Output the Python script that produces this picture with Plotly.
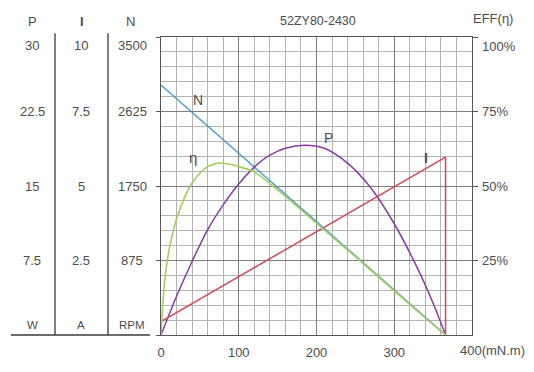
import plotly.graph_objects as go

# ---------------- data ----------------
title_text = "52ZY80-2430"

torque_n = [0, 366]
speed_rpm = [2935, 0]

torque_i = [0, 366, 366]
current_a = [0.45, 5.97, 0]

torque_p = [0, 20, 40, 60, 80, 100, 120, 140, 160, 185, 210, 240, 270, 300, 330, 350, 366]
power_w = [0, 3.9, 7.4, 10.6, 13.1, 15.2, 16.9, 18.1, 18.8, 19.1, 18.8, 17.3, 14.8, 11.2, 6.7, 3.2, 0]

torque_eff = [0, 2, 5, 10, 15, 20, 30, 40, 50, 60, 74, 90, 100, 120, 140, 160, 200, 250, 300, 340, 366]
eff_pct = [0, 9, 19, 28, 34, 39, 46, 51, 54.3, 56.5, 57.7, 57.2, 56.5, 54.8, 50.8, 46.5, 37.5, 26.3, 14.8, 5.7, 0]

x_ticks = [0, 100, 200, 300]
x_last_label = "400(mN.m)"
p_ticks = [30, 22.5, 15, 7.5]
i_ticks = [10, 7.5, 5, 2.5]
n_ticks = [3500, 2625, 1750, 875]
eff_ticks = [100, 75, 50, 25]
eff_tick_text = ["100%", "75%", "50%", "25%"]
p_tick_text = ["30", "22.5", "15", "7.5"]
i_tick_text = ["10", "7.5", "5", "2.5"]
n_tick_text = ["3500", "2625", "1750", "875"]

# ---------------- styling ----------------
W, H = 534, 372
L, R, T, B = 161, 62, 37, 25
PW, PH = W - L - R, H - T - B
FONT = "Liberation Sans, Arial, sans-serif"
TXT = "#4d4d4d"
BLUE = "#3b8ec6"
GREEN = "#a3cf5e"
PURPLE = "#8a3aa6"
RED = "#d2485a"


def px(xp):
    return (xp - L) / PW


def py(yp):
    return (H - B - yp) / PH


fig = go.Figure()
fig.add_trace(go.Scatter(x=torque_i, y=current_a, yaxis="y3", mode="lines",
                         line=dict(color=RED, width=1.5), showlegend=False))
fig.add_trace(go.Scatter(x=torque_p, y=power_w, yaxis="y2", mode="lines",
                         line=dict(color=PURPLE, width=1.5, shape="spline", smoothing=0.8),
                         showlegend=False))
fig.add_trace(go.Scatter(x=torque_eff, y=eff_pct, yaxis="y4", mode="lines",
                         line=dict(color=GREEN, width=1.6, shape="spline", smoothing=0.6),
                         showlegend=False))
fig.add_trace(go.Scatter(x=torque_n, y=speed_rpm, yaxis="y", mode="lines",
                         line=dict(color=BLUE, width=1.5), opacity=0.85, showlegend=False))

ann = []
# left column tick labels
for v, t in zip(p_ticks, p_tick_text):
    ann.append(dict(x=px(32), xref="paper", y=v, yref="y2", text=t, showarrow=False,
                    xanchor="center", yanchor="middle", yshift=-8 if v == p_ticks[0] else 0))
for v, t in zip(i_ticks, i_tick_text):
    ann.append(dict(x=px(81), xref="paper", y=v, yref="y3", text=t, showarrow=False,
                    xanchor="center", yanchor="middle", yshift=-8 if v == i_ticks[0] else 0))
for v, t in zip(n_ticks, n_tick_text):
    ann.append(dict(x=px(132), xref="paper", y=v, yref="y", text=t, showarrow=False,
                    xanchor="center", yanchor="middle", yshift=-8 if v == n_ticks[0] else 0))
for v, t in zip(eff_ticks, eff_tick_text):
    ann.append(dict(x=px(480), xref="paper", y=v, yref="y4", text=t, showarrow=False,
                    xanchor="left", yanchor="middle", yshift=-9 if v == eff_ticks[0] else 0))
# headers
for xx, t in [(32, "P"), (82, "<b>I</b>"), (130, "N")]:
    ann.append(dict(x=px(xx), xref="paper", y=py(21), yref="paper", text=t, showarrow=False,
                    xanchor="center", yanchor="middle", font=dict(size=13)))
for xx, t in [(32, "W"), (81, "A"), (132, "RPM")]:
    ann.append(dict(x=px(xx), xref="paper", y=py(337), yref="paper", text=t, showarrow=False,
                    xanchor="center", yanchor="middle", font=dict(size=11.5)))
ann.append(dict(x=px(317.5), xref="paper", y=py(20), yref="paper", text=title_text,
                showarrow=False, xanchor="center", yanchor="middle", font=dict(size=12.5)))
ann.append(dict(x=px(493), xref="paper", y=py(18), yref="paper", text="EFF(η)",
                showarrow=False, xanchor="center", yanchor="middle", font=dict(size=13)))
ann.append(dict(x=400, xref="x", y=py(363), yref="paper", text=x_last_label,
                showarrow=False, xanchor="left", yanchor="middle", xshift=-14))
# curve labels
ann.append(dict(x=48, xref="x", y=2755, yref="y", text="N", showarrow=False, font=dict(size=14)))
ann.append(dict(x=41.5, xref="x", y=59.7, yref="y4", text="η", showarrow=False, font=dict(size=15)))
ann.append(dict(x=215, xref="x", y=19.8, yref="y2", text="P", showarrow=False, font=dict(size=14)))
ann.append(dict(x=341, xref="x", y=5.94, yref="y3", text="<b>I</b>", showarrow=False, font=dict(size=14)))

shapes = [
    dict(type="line", xref="paper", yref="paper", x0=px(55), x1=px(55), y0=py(33), y1=0,
         line=dict(color="#3a3a3a", width=1.3)),
    dict(type="line", xref="paper", yref="paper", x0=px(108), x1=px(108), y0=py(33), y1=0,
         line=dict(color="#3a3a3a", width=1.3)),
    dict(type="line", xref="paper", yref="paper", x0=px(11), x1=px(150), y0=0, y1=0,
         line=dict(color="#3a3a3a", width=1.3)),
]

MAJ = "#7d7d7d"
MIN = "#b3b3b3"
fig.update_layout(
    width=W, height=H, margin=dict(l=L, r=R, t=T, b=B, pad=0),
    paper_bgcolor="white", plot_bgcolor="white",
    font=dict(family=FONT, size=13, color=TXT),
    annotations=ann, shapes=shapes, showlegend=False,
    xaxis=dict(range=[0, 400], tickvals=x_ticks, ticktext=[str(v) for v in x_ticks],
               showgrid=True, gridcolor=MAJ, gridwidth=1,
               minor=dict(dtick=20, showgrid=True, gridcolor=MIN, gridwidth=1),
               showline=True, linecolor="#555", linewidth=1.2, mirror=True,
               ticks="", zeroline=False, ticklabelstandoff=5, fixedrange=True),
    yaxis=dict(range=[0, 3500], tickvals=[0] + n_ticks, showticklabels=False,
               showgrid=True, gridcolor=MAJ, gridwidth=1,
               minor=dict(dtick=175, showgrid=True, gridcolor=MIN, gridwidth=1),
               showline=True, linecolor="#555", linewidth=1.2, mirror=True,
               ticks="outside", ticklen=4, tickcolor="#555", zeroline=False),
    yaxis2=dict(range=[0, 30], overlaying="y", visible=False),
    yaxis3=dict(range=[0, 10], overlaying="y", visible=False),
    yaxis4=dict(range=[0, 100], overlaying="y", side="right", tickvals=eff_ticks,
                showticklabels=False, showgrid=False, ticks="outside", ticklen=5,
                tickcolor="#555", showline=False, zeroline=False),
)

fig.write_html("out.html", config={"displayModeBar": False},
               post_script="document.body.style.margin='0';document.body.style.overflow='hidden';")
